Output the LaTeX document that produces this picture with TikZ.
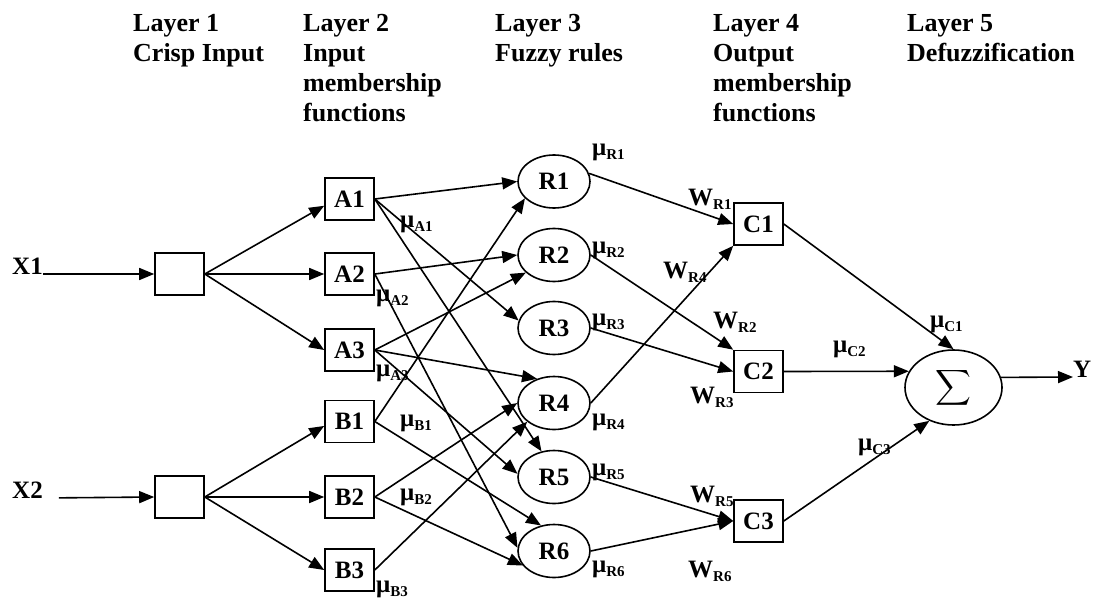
\documentclass[tikz,border=0pt]{standalone}
\usepackage{amsmath}
\usepackage{fontspec}
\setmainfont{Liberation Serif}
\usetikzlibrary{arrows.meta,shapes.geometric}
% symbol with a lowered, smaller subscript
\newcommand\msub[2]{#1\raisebox{-4pt}{\fontsize{15}{15}\selectfont #2}}

\begin{document}
\begin{tikzpicture}[x=1pt,y=-1pt,
  font=\fontsize{25}{30}\selectfont\bfseries,
  box/.style={draw, line width=1.6pt, minimum width=49pt, minimum height=42pt, inner sep=0pt},
  rulenode/.style={draw, ellipse, line width=1.6pt, minimum width=72pt, minimum height=53pt, inner sep=0pt},
  arr/.style={line width=1.6pt, -{Triangle[length=15pt,width=12pt]}},
  hdr/.style={anchor=north west, align=left, inner sep=0pt, font=\fontsize{26}{30}\selectfont\bfseries},
  lab/.style={anchor=base west, inner sep=0pt}]
\useasboundingbox (0,0) rectangle (1094,602);

% layer headings
\node[hdr] (h1) at (133,14) {Layer 1\\Crisp Input};
\node[hdr] (h2) at (303,14) {Layer 2\\Input\\membership\\functions};
\node[hdr] (h3) at (495,14) {Layer 3\\Fuzzy rules};
\node[hdr] (h4) at (713,14) {Layer 4\\Output\\membership\\functions};
\node[hdr] (h5) at (907,14) {Layer 5\\Defuzzification};

% inputs
\node[lab] (x1) at (12,274) {X1};
\node[lab] (x2) at (12,498) {X2};
\node[box] (in1) at (179.5,274) {};
\node[box] (in2) at (179.5,497) {};

% layer 2: input membership functions
\node[box] (a1) at (349.5,199) {A1};
\node[box] (a2) at (349.5,274) {A2};
\node[box] (a3) at (349.5,350) {A3};
\node[box] (b1) at (349.5,421.5) {B1};
\node[box] (b2) at (349.5,497) {B2};
\node[box] (b3) at (349.5,570) {B3};

% layer 3: rules
\node[rulenode] (r1) at (554,181.5) {R1};
\node[rulenode] (r2) at (554,255) {R2};
\node[rulenode] (r3) at (554,328) {R3};
\node[rulenode] (r4) at (554,403) {R4};
\node[rulenode] (r5) at (554,477) {R5};
\node[rulenode] (r6) at (554,551) {R6};

% layer 4: output membership functions
\node[box] (c1) at (758.5,224) {C1};
\node[box] (c2) at (758.5,371.5) {C2};
\node[box] (c3) at (758.5,521) {C3};

% layer 5: summation and output
\node[draw, ellipse, line width=1.6pt, minimum width=97pt, minimum height=75pt, inner sep=0pt] (sig) at (953.5,387.5)
  {\fontsize{24}{24}\selectfont$\displaystyle\sum$};
\node[lab] (y) at (1073,377) {Y};

% input connections
\draw[arr] (x1.base east) -- (in1.west);
\draw[arr, shorten <=16pt] (x2.base east) -- (in2.west);
\draw[arr] (in1.east) -- (a1.195);
\draw[arr] (in1.east) -- (a2.west);
\draw[arr] (in1.east) -- (a3.west);
\draw[arr] (in2.east) -- (b1.190);
\draw[arr] (in2.east) -- (b2.west);
\draw[arr] (in2.east) -- (b3.west);

% membership to rules
\draw[arr] (a1.east) -- (r1.west);
\draw[arr] (a1.east) -- (r3.168);
\draw[arr] (a1.east) -- (r5.116);
\draw[arr] (a2.east) -- (r2.west);
\draw[arr] (a2.east) -- (r6.175);
\draw[arr] (a3.east) -- (r2.212);
\draw[arr] (a3.east) -- (r4.125);
\draw[arr] (a3.east) -- (r5.175);
\draw[arr] (b1.east) -- (r1.210);
\draw[arr] (b1.east) -- (r6.117);
\draw[arr] (b2.east) -- (r4.west);
\draw[arr] (b2.east) -- (r6.205);
\draw[arr] (b3.east) -- (r4.215);

% rules to output membership
\draw[arr] (r1.13) -- (c1.west);
\draw[arr] (r4.east) -- (c1.south west);
\draw[arr] (r2.east) -- (c2.north west);
\draw[arr] (r3.east) -- (c2.west);
\draw[arr] (r5.east) -- (c3.west);
\draw[arr] (r6.east) -- (c3.west);

% defuzzification
\draw[arr] (c1.east) -- (sig.north);
\draw[arr] (c2.east) -- (sig.160);
\draw[arr] (c3.east) -- (sig.-126);
\draw[arr] (sig.12) -- (y.base west);

% membership degree labels
\node[lab] (lA1) at (400,227) {\msub{μ}{A1}};
\node[lab] (lA2) at (376,301) {\msub{μ}{A2}};
\node[lab] (lA3) at (376,376) {\msub{μ}{A3}};
\node[lab] (lB1) at (400,426) {\msub{μ}{B1}};
\node[lab] (lB2) at (400,500) {\msub{μ}{B2}};
\node[lab] (lB3) at (376,592) {\msub{μ}{B3}};
\node[lab] (lR1) at (592,155) {\msub{μ}{R1}};
\node[lab] (lR2) at (592,253) {\msub{μ}{R2}};
\node[lab] (lR3) at (592,325) {\msub{μ}{R3}};
\node[lab] (lR4) at (592,425) {\msub{μ}{R4}};
\node[lab] (lR5) at (592,475) {\msub{μ}{R5}};
\node[lab] (lR6) at (592,572) {\msub{μ}{R6}};
\node[lab] (lC1) at (930,327) {\msub{μ}{C1}};
\node[lab] (lC2) at (833,352) {\msub{μ}{C2}};
\node[lab] (lC3) at (858,450) {\msub{μ}{C3}};

% rule weight labels
\node[lab] (wR1) at (688,205) {\msub{W}{R1}};
\node[lab] (wR4) at (663,278) {\msub{W}{R4}};
\node[lab] (wR2) at (713,328) {\msub{W}{R2}};
\node[lab] (wR3) at (690,403) {\msub{W}{R3}};
\node[lab] (wR5) at (690,502) {\msub{W}{R5}};
\node[lab] (wR6) at (688,577) {\msub{W}{R6}};
\end{tikzpicture}
\end{document}
